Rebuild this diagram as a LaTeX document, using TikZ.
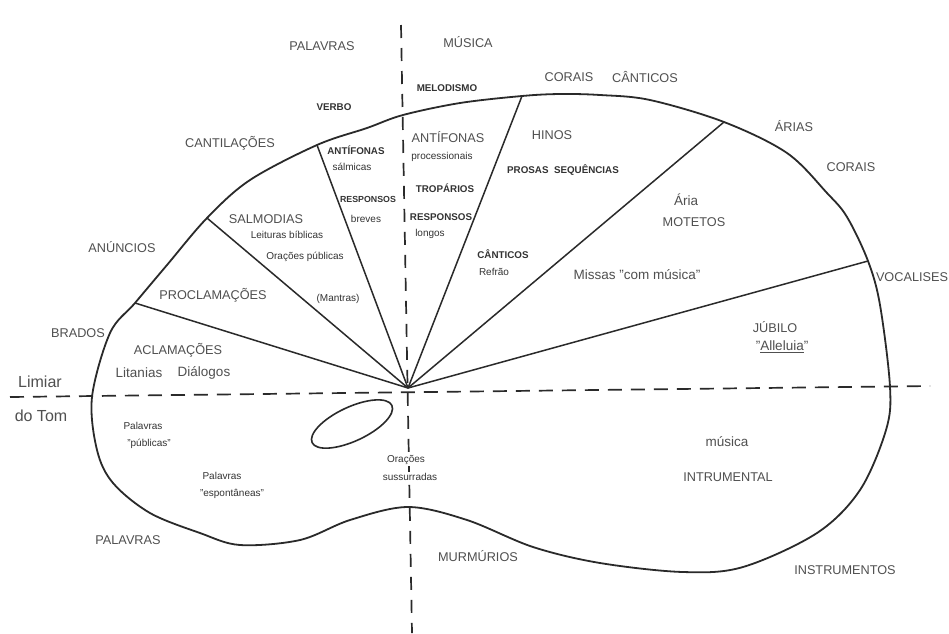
\documentclass[tikz,border=0pt]{standalone}
\usepackage{fontspec}
\setmainfont{Liberation Sans}
\definecolor{lin}{HTML}{2A2A2A}
\definecolor{txt}{HTML}{505050}
\definecolor{txtd}{HTML}{333333}
\newcommand{\dq}{\char34\relax}
\begin{document}
\begin{tikzpicture}[x=1pt,y=-1pt,line join=round,line cap=butt,
  outline/.style={draw=lin,line width=1.8pt},
  wedge/.style={draw=lin,line width=1.5pt},
  dsh/.style={draw=lin,line width=1.7pt,dash pattern=on 14pt off 9pt},
  dshv/.style={draw=lin,line width=1.7pt,dash pattern=on 13pt off 10pt},
  big/.style={font=\fontsize{12.7}{15}\selectfont,text=txt,inner sep=0pt},
  low/.style={font=\fontsize{13.5}{16}\selectfont,text=txt,inner sep=0pt},
  sm/.style={font=\fontsize{9.8}{12}\selectfont\bfseries,text=txtd,inner sep=0pt},
  smr/.style={font=\fontsize{10}{12}\selectfont,text=txtd,inner sep=0pt},
  edge/.style={font=\fontsize{16}{18}\selectfont,text=txt,inner sep=0pt}]
\useasboundingbox (0,0) rectangle (949,633);
\fill[white] (0,0) rectangle (949,633);

% hub and junctions
\coordinate (hub) at (408,388);
\coordinate (j1) at (135,303);
\coordinate (j2) at (207,218);
\coordinate (j3) at (317,145);
\coordinate (j4) at (522,96);
\coordinate (j5) at (724,122);
\coordinate (j6) at (868,261);

% outline (kidney shape)
\draw[outline] plot[smooth cycle,tension=0.55] coordinates {
  (92,397) (110,333) (135,303) (167,265) (207,218) (250,180) (317,145)
  (367,128) (403,115) (460,103) (522,96) (560,94) (600,95) (650,100)
  (724,122) (787,153) (827,193) (847,217) (868,261) (880,305) (890,387)
  (886,430) (860,490) (817,533) (743,567) (683,572) (600,563) (533,547)
  (467,520) (408,507) (350,520) (300,540) (240,545) (200,533) (150,513)
  (113,483) (97,450)};

% wedge lines
\draw[wedge] (hub) -- (j1);
\draw[wedge] (hub) -- (j2);
\draw[wedge] (hub) -- (j3);
\draw[wedge] (hub) -- (j4);
\draw[wedge] (hub) -- (j5);
\draw[wedge] (hub) -- (j6);

% dashed axes
\coordinate (vtop) at (401,25);
\coordinate (vbot) at (412,633);
\coordinate (hl) at (10,397);
\coordinate (hr) at (930,386);
\draw[dshv] (vtop) -- (vbot);
\draw[dsh] (hl) -- (hr);

% small ellipse
\draw[outline,line width=1.6pt,rotate around={25:(352,424)}] (352,424) ellipse [x radius=44,y radius=17];

% outer labels
\node[big] (palT) at (322,46) {PALAVRAS};
\node[big] (musT) at (468,42) {MÚSICA};
\node[sm] (melod) at (447,88) {MELODISMO};
\node[sm] (verbo) at (334,107) {VERBO};
\node[big] (corT) at (569,77) {CORAIS};
\node[big] (cantT) at (645,77) {CÂNTICOS};
\node[big] (arias) at (794,126) {ÁRIAS};
\node[big] (corR) at (851,167) {CORAIS};
\node[big] (cantil) at (230,143) {CANTILAÇÕES};
\node[big] (anun) at (122,247) {ANÚNCIOS};
\node[big] (brados) at (78,333) {BRADOS};
\node[big] (vocal) at (912,277) {VOCALISES};
\node[edge] (limiar) at (40,382) {Limiar};
\node[edge] (dotom) at (41,416) {do Tom};
\node[big] (palB) at (128,540) {PALAVRAS};
\node[big] (murm) at (478,556) {MURMÚRIOS};
\node[big] (instr) at (845,570) {INSTRUMENTOS};

% inner labels, left
\node[big] (salm) at (266,219) {SALMODIAS};
\node[smr] (leit) at (287,235) {Leituras bíblicas};
\node[smr] (orpub) at (305,257) {Orações públicas};
\node[smr] (mant) at (338,299) {(Mantras)};
\node[big] (procl) at (213,295) {PROCLAMAÇÕES};
\node[big] (acl) at (178,350) {ACLAMAÇÕES};
\node[low] (litan) at (139,373) {Litanias};
\node[low] (dialog) at (204,373) {Diálogos};

% narrow wedge
\node[sm] (antS) at (356,150) {ANTÍFONAS};
\node[smr] (salmic) at (352,167) {sálmicas};
\node[sm,font=\fontsize{8.8}{11}\selectfont\bfseries] (respB) at (368,199) {RESPONSOS};
\node[smr] (breves) at (366,219) {breves};

% processional wedge
\node[big] (antP) at (448,137) {ANTÍFONAS};
\node[smr] (proc) at (442,157) {processionais};
\node[sm] (trop) at (445,188) {TROPÁRIOS};
\node[sm] (respL) at (441,217) {RESPONSOS};
\node[smr] (longos) at (430,234) {longos};

% hymns wedge
\node[big] (hinos) at (552,135) {HINOS};
\node[sm] (prosas) at (563,170) {PROSAS\ \ SEQUÊNCIAS};
\node[sm] (cantS) at (503,254) {CÂNTICOS};
\node[smr] (refrao) at (494,272) {Refrão};

% aria wedge
\node[low] (aria) at (686,200) {Ária};
\node[big] (motet) at (694,222) {MOTETOS};
\node[low] (missas) at (637,275) {Missas \dq com música\dq};

% jubilo wedge
\node[big] (jub) at (775,327) {JÚBILO};
\node[low] (allel) at (782,347) {\dq\underline{Alleluia}\dq};

% lower half
\node[low] (mus) at (727,442) {música};
\node[big] (intrum) at (728,477) {INTRUMENTAL};
\node[smr] (palP1) at (143,426) {Palavras};
\node[smr] (palP2) at (149,444) {\dq públicas\dq};
\node[smr] (palE1) at (222,476) {Palavras};
\node[smr] (palE2) at (232,494) {\dq espontâneas\dq};
\node[smr,fill=white,inner sep=1pt] (orac) at (406,460) {Orações};
\node[smr,fill=white,inner sep=1pt] (suss) at (410,477) {sussurradas};
\end{tikzpicture}
\end{document}
